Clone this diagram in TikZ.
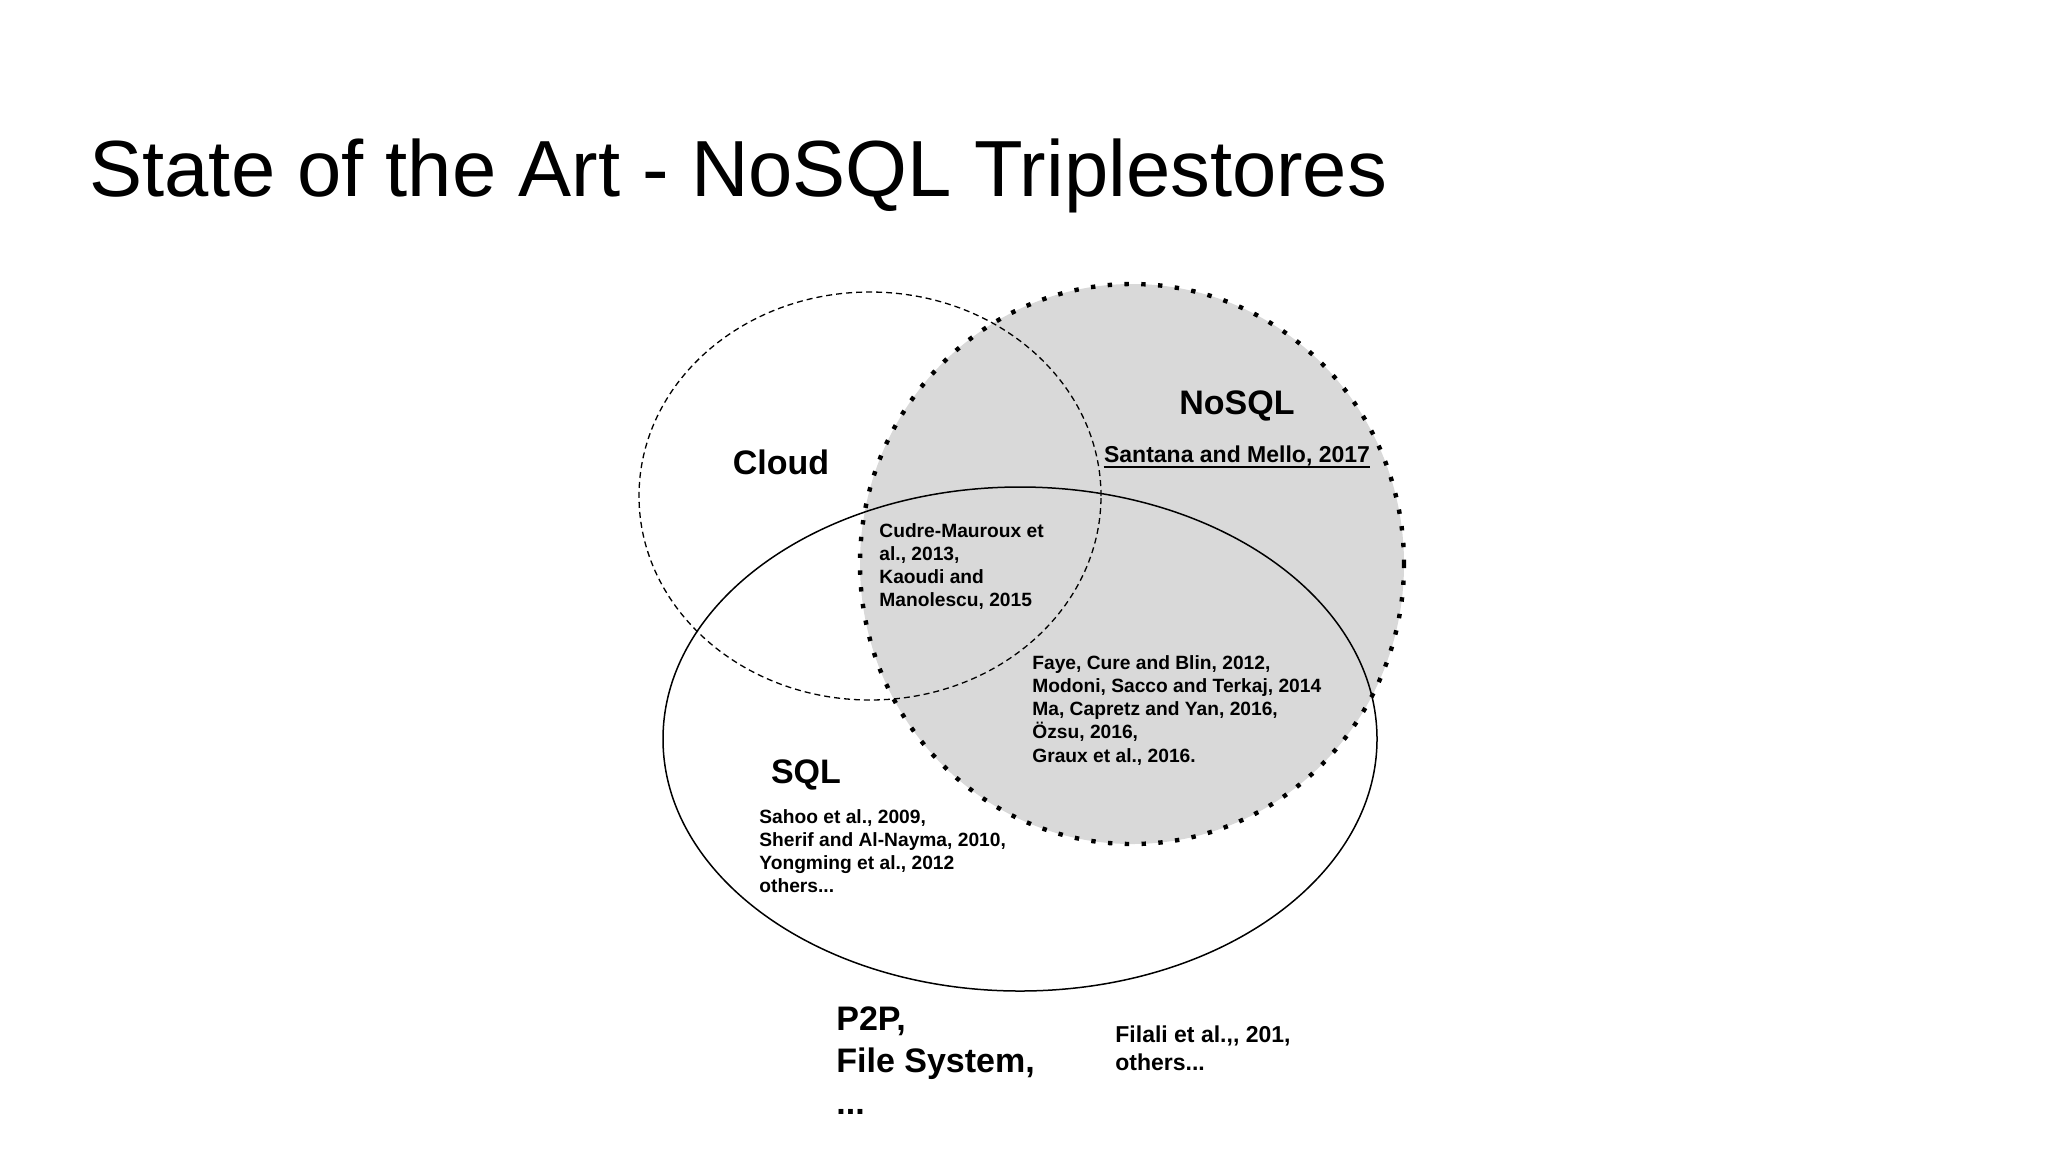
\documentclass[tikz,border=0pt]{standalone}
\usepackage{fontspec}
\setmainfont{Liberation Sans}
\definecolor{setgray}{RGB}{217,217,217}
\begin{document}
\begin{tikzpicture}[x=0.5pt,y=-0.5pt,
  setlabel/.style={font=\bfseries\fontsize{17}{21}\selectfont, inner sep=0pt},
  refs/.style={font=\bfseries\fontsize{9.6}{11.6}\selectfont, align=left, inner sep=0pt, anchor=north west},
  bigrefs/.style={font=\bfseries\fontsize{11.5}{14}\selectfont, align=left, inner sep=0pt, anchor=north west},
  nosqlset/.style={line width=2.2pt, dash pattern=on 2.2pt off 6.2pt, line cap=butt},
  cloudset/.style={line width=0.65pt, dash pattern=on 3pt off 2pt},
  sqlset/.style={line width=0.75pt}]
\useasboundingbox[fill=white] (0,0) rectangle (2048,1152);
% title
\node[anchor=base west, inner sep=0pt, font=\fontsize{39.8}{48}\selectfont] (title) at (89,196) {State of the Art - NoSQL Triplestores};
% sets
\fill[setgray] (1132,564) ellipse [x radius=136pt, y radius=140pt];
\draw[nosqlset] (1132,564) ellipse [x radius=136pt, y radius=140pt];
\draw[cloudset] (870,496) ellipse [x radius=115.5pt, y radius=102pt];
\draw[sqlset] (1020,739) ellipse [x radius=178.5pt, y radius=126pt];
% labels
\node[setlabel] (cloud) at (781,462) {Cloud};
\node[setlabel] (nosql) at (1237,406) {NoSQL};
\node[setlabel] (sql) at (806,775) {SQL};
\node[font=\bfseries\fontsize{11.5}{14}\selectfont, inner sep=0pt] (santana) at (1237,456) {Santana and Mello, 2017};
\draw[line width=1pt] ([yshift=-2pt]santana.base west) -- ([yshift=-2pt]santana.base east);
\node[refs] (cudre) at (879,523) {Cudre-Mauroux et\\al., 2013,\\Kaoudi and\\Manolescu, 2015};
\node[refs] (faye) at (1032,655) {Faye, Cure and Blin, 2012,\\Modoni, Sacco and Terkaj, 2014\\Ma, Capretz and Yan, 2016,\\Özsu, 2016,\\Graux et al., 2016.};
\node[refs] (sqlrefs) at (759,809) {Sahoo et al., 2009,\\Sherif and Al-Nayma, 2010,\\Yongming et al., 2012\\others...};
\node[font=\bfseries\fontsize{17}{21}\selectfont, align=left, inner sep=0pt, anchor=north west] (p2p) at (836,1006) {P2P,\\File System,\\...};
\node[bigrefs] (filali) at (1115,1025) {Filali et al.,{},{} 201,\\others...};
\end{tikzpicture}
\end{document}
